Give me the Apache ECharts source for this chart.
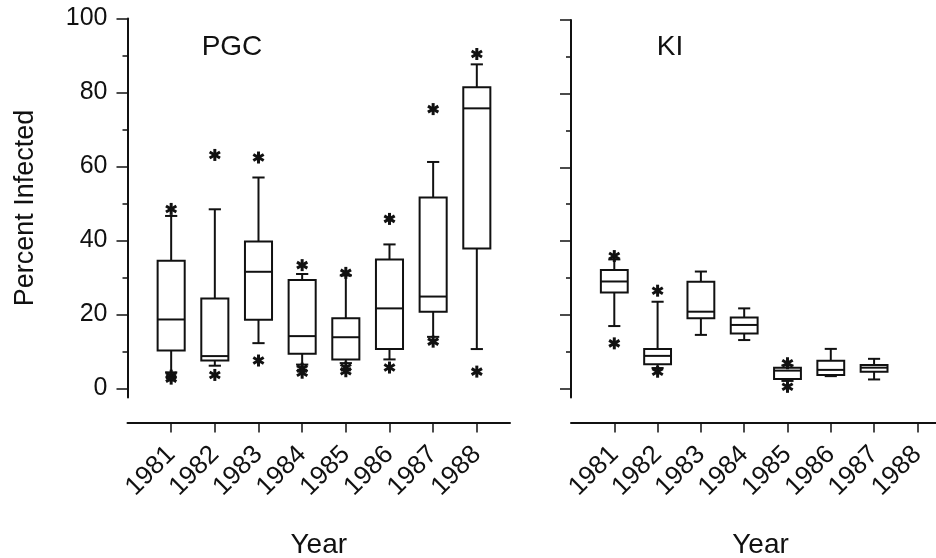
<!DOCTYPE html>
<html>
<head>
<meta charset="utf-8">
<script src="https://cdn.jsdelivr.net/npm/echarts@6/dist/echarts.min.js"></script>
<style>
  html, body { margin: 0; padding: 0; background: #fff; }
  #chart { width: 936px; height: 558px; }
</style>
</head>
<body>
<div id="chart"></div>
<script>
// years on the x axis
const yearTicks = [1981, 1982, 1983, 1984, 1985, 1986, 1987, 1988];
const yTickLabels = [0, 20, 40, 60, 80, 100];
const yMinorTicks = [10, 30, 50, 70, 90];

// PGC boxes: low whisker, Q1, median, Q3, high whisker
const pgcYears = [1981, 1982, 1983, 1984, 1985, 1986, 1987, 1988];
const pgcLow = [4.3, 6.1, 12.2, 6.4, 6.8, 7.8, 13.9, 10.6];
const pgcQ1 = [10.2, 7.5, 18.5, 9.3, 7.8, 10.6, 20.7, 37.8];
const pgcMedian = [18.6, 8.7, 31.5, 14.1, 13.8, 21.6, 24.8, 75.7];
const pgcQ3 = [34.5, 24.3, 39.7, 29.3, 18.9, 34.8, 51.6, 81.4];
const pgcHigh = [46.6, 48.4, 57.0, 30.9, 30.5, 38.9, 61.2, 87.6];
const pgcOutliers = [
  [1981, 48.5], [1981, 3.4], [1981, 2.6],
  [1982, 63.1], [1982, 3.6],
  [1983, 62.4], [1983, 7.5],
  [1984, 33.3], [1984, 5.3], [1984, 4.2],
  [1985, 31.2], [1985, 5.6], [1985, 4.6],
  [1986, 45.8], [1986, 5.6],
  [1987, 75.5], [1987, 12.6],
  [1988, 90.4], [1988, 4.5]
];

// KI boxes (no 1988 sample)
const kiYears = [1981, 1982, 1983, 1984, 1985, 1986, 1987];
const kiLow = [16.9, 5.5, 14.5, 13.1, 2.0, 3.3, 2.4];
const kiQ1 = [26.0, 6.5, 19.0, 14.9, 2.5, 3.6, 4.5];
const kiMedian = [29.0, 8.8, 20.8, 17.2, 4.8, 5.0, 5.6];
const kiQ3 = [32.1, 10.7, 28.9, 19.2, 5.6, 7.5, 6.3];
const kiHigh = [35.0, 23.5, 31.7, 21.7, 6.2, 10.7, 8.0];
const kiOutliers = [
  [1981, 35.9], [1981, 12.2],
  [1982, 26.5], [1982, 4.5],
  [1985, 6.8], [1985, 0.4]
];

const FONT = 'Liberation Sans';
const INK = '#111';

function boxRows(years, lo, q1, md, q3, hi) {
  return years.map((y, i) => [y, lo[i], q1[i], md[i], q3[i], hi[i]]);
}

function renderBox(params, api) {
  const x = api.value(0);
  const lo = api.coord([x, api.value(1)]);
  const q1 = api.coord([x, api.value(2)]);
  const md = api.coord([x, api.value(3)]);
  const q3 = api.coord([x, api.value(4)]);
  const hi = api.coord([x, api.value(5)]);
  const unit = api.size([1, 0])[0];
  const half = unit * 0.31;
  const cap = unit * 0.14;
  const cx = md[0];
  const st = { stroke: INK, lineWidth: 2, fill: null };
  const line = (x1, y1, x2, y2) => ({ type: 'line', shape: { x1, y1, x2, y2 }, style: st });
  return {
    type: 'group',
    children: [
      line(cx, q3[1], cx, hi[1]),
      line(cx - cap, hi[1], cx + cap, hi[1]),
      line(cx, q1[1], cx, lo[1]),
      line(cx - cap, lo[1], cx + cap, lo[1]),
      { type: 'rect', shape: { x: cx - half, y: q3[1], width: half * 2, height: q1[1] - q3[1] },
        style: { stroke: INK, lineWidth: 2, fill: '#fff' } },
      line(cx - half, md[1], cx + half, md[1])
    ]
  };
}

function renderStar(params, api) {
  const p = api.coord([api.value(0), api.value(1)]);
  const r = 6;
  const st = { stroke: INK, lineWidth: 3 };
  const kids = [];
  for (let k = 0; k < 3; k++) {
    const a = Math.PI / 2 + k * Math.PI / 3;
    kids.push({ type: 'line', shape: {
      x1: p[0] - r * Math.cos(a), y1: p[1] - r * Math.sin(a),
      x2: p[0] + r * Math.cos(a), y2: p[1] + r * Math.sin(a) }, style: st });
  }
  return { type: 'group', children: kids };
}

function xAxisFor(grid, max, namePad) {
  return {
    type: 'value', gridIndex: grid, min: 1980, max: max,
    position: 'bottom', offset: 25,
    name: 'Year', nameLocation: 'middle', nameGap: 109,
    nameTextStyle: { fontFamily: FONT, fontSize: 28, color: INK, padding: [0, 0, 0, namePad] },
    axisLine: { onZero: false, lineStyle: { color: INK, width: 2 } },
    axisTick: { customValues: yearTicks, length: 10, lineStyle: { color: INK, width: 1.5 } },
    axisLabel: { customValues: yearTicks, formatter: v => String(v), rotate: 45, margin: 28,
      fontFamily: FONT, fontSize: 26, color: INK },
    splitLine: { show: false }
  };
}

function yAxesFor(grid, withLabels) {
  const main = {
    type: 'value', gridIndex: grid, min: -2.5, max: 100, position: 'left',
    axisLine: { show: true, onZero: false, lineStyle: { color: INK, width: 2 } },
    axisTick: { customValues: yTickLabels, length: 11, lineStyle: { color: INK, width: 1.5 } },
    axisLabel: { show: withLabels, customValues: yTickLabels, margin: 20, fontFamily: FONT, fontSize: 25, color: INK },
    splitLine: { show: false }
  };
  if (withLabels) {
    main.name = 'Percent Infected';
    main.nameLocation = 'middle';
    main.nameGap = 88;
    main.nameTextStyle = { fontFamily: FONT, fontSize: 27, color: INK };
  }
  const minor = {
    type: 'value', gridIndex: grid, min: -2.5, max: 100, position: 'left', offset: 0,
    axisLine: { show: false, onZero: false },
    axisTick: { customValues: yMinorTicks, length: 5, lineStyle: { color: INK, width: 1.5 } },
    axisLabel: { show: false },
    splitLine: { show: false }
  };
  return [main, minor];
}

const chart = echarts.init(document.getElementById('chart'), null, { renderer: 'canvas' });
chart.setOption({
  backgroundColor: '#fff',
  animation: false,
  grid: [
    { left: 127.5, top: 18.5, width: 382.5, height: 379, containLabel: false, outerBoundsMode: 'none' },
    { left: 571, top: 20, width: 365, height: 377.5, containLabel: false, outerBoundsMode: 'none' }
  ],
  xAxis: [xAxisFor(0, 1988.76, 0), xAxisFor(1, 1988.43, 14)],
  yAxis: yAxesFor(0, true).concat(yAxesFor(1, false)),
  graphic: [
    { type: 'text', x: 232, y: 47, style: { text: 'PGC', fontFamily: FONT, fontSize: 28, fill: INK, textAlign: 'center', textVerticalAlign: 'middle' } },
    { type: 'text', x: 670, y: 47, style: { text: 'KI', fontFamily: FONT, fontSize: 28, fill: INK, textAlign: 'center', textVerticalAlign: 'middle' } }
  ],
  series: [
    { type: 'custom', name: 'PGC', xAxisIndex: 0, yAxisIndex: 0, renderItem: renderBox,
      encode: { x: 0, y: [1, 2, 3, 4, 5] },
      data: boxRows(pgcYears, pgcLow, pgcQ1, pgcMedian, pgcQ3, pgcHigh) },
    { type: 'custom', name: 'PGC outliers', xAxisIndex: 0, yAxisIndex: 0, renderItem: renderStar,
      encode: { x: 0, y: 1 }, data: pgcOutliers },
    { type: 'custom', name: 'KI', xAxisIndex: 1, yAxisIndex: 2, renderItem: renderBox,
      encode: { x: 0, y: [1, 2, 3, 4, 5] },
      data: boxRows(kiYears, kiLow, kiQ1, kiMedian, kiQ3, kiHigh) },
    { type: 'custom', name: 'KI outliers', xAxisIndex: 1, yAxisIndex: 2, renderItem: renderStar,
      encode: { x: 0, y: 1 }, data: kiOutliers }
  ]
});
</script>
</body>
</html>
